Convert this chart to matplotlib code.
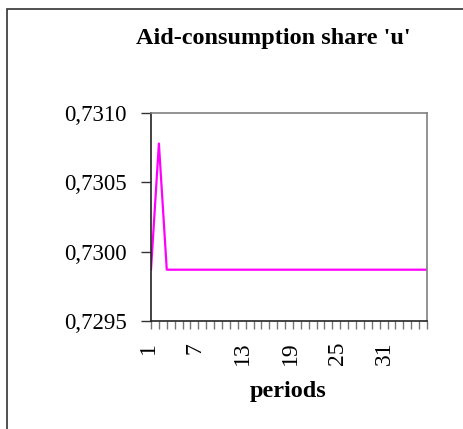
import matplotlib
matplotlib.use("Agg")
import matplotlib.pyplot as plt
from matplotlib.patches import Rectangle
from matplotlib.transforms import ScaledTranslation

plt.rcParams.update({"font.family": "Liberation Serif"})

# data
periods = list(range(1, 37))
u_share = [
    0.72987, 0.73078, 0.72987, 0.72987, 0.72987, 0.72987,
    0.72987, 0.72987, 0.72987, 0.72987, 0.72987, 0.72987,
    0.72987, 0.72987, 0.72987, 0.72987, 0.72987, 0.72987,
    0.72987, 0.72987, 0.72987, 0.72987, 0.72987, 0.72987,
    0.72987, 0.72987, 0.72987, 0.72987, 0.72987, 0.72987,
    0.72987, 0.72987, 0.72987, 0.72987, 0.72987, 0.72987,
]
y_ticks = [0.7295, 0.7300, 0.7305, 0.7310]
x_labelled = [1, 7, 13, 19, 25, 31]

fig = plt.figure(figsize=(4.64, 4.29), dpi=100)

# outer chart frame (runs off the right and bottom edges)
fig.patches.append(
    Rectangle((7 / 464, -0.1), 1.2, 1.1 - 9 / 429,
              transform=fig.transFigure, fill=False,
              edgecolor="#333333", linewidth=1.2)
)

ax = fig.add_axes([151 / 464, 108 / 429, 276 / 464, 208 / 429])
ax.plot(periods, u_share, color="#ff00ff", linewidth=1.6)

ax.set_xlim(1, 36)
ax.set_ylim(0.7295, 0.7310)
ax.set_yticks(y_ticks)
ax.set_yticklabels([f"{v:.4f}".replace(".", ",") for v in y_ticks], fontsize=16.5)
ax.set_xticks(periods)
ax.set_xticklabels([str(p) if p in x_labelled else "" for p in periods],
                   rotation=90, fontsize=17)
ax.tick_params(axis="y", direction="out", length=7, width=1,
               color="#333333", pad=10.5)
ax.tick_params(axis="x", direction="out", length=6, width=1,
               color="#777777", pad=9)

# nudge rotated period labels slightly left, as in the original
shift = ScaledTranslation(-3 / 100, 0, fig.dpi_scale_trans)
for lab in ax.get_xticklabels():
    lab.set_transform(lab.get_transform() + shift)

for side in ("left", "bottom"):
    ax.spines[side].set_color("#222222")
    ax.spines[side].set_linewidth(1.2)
for side in ("top", "right"):
    ax.spines[side].set_color("#808080")
    ax.spines[side].set_linewidth(1.2)

fig.text(273 / 464, 1 - 44 / 429, "Aid-consumption share 'u'",
         ha="center", va="baseline", fontsize=17.5, fontweight="bold")
fig.text(288 / 464, 1 - 397 / 429, "periods",
         ha="center", va="baseline", fontsize=17.5, fontweight="bold")

fig.savefig("out.png", dpi=100)
